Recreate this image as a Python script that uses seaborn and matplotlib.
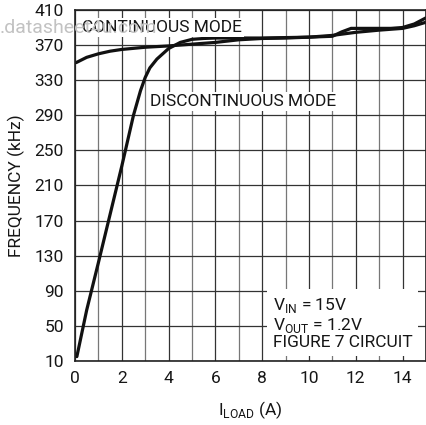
import numpy as np
import pandas as pd
import seaborn as sns
from matplotlib import pyplot as plt
from matplotlib.ticker import MultipleLocator

# load current (A) and switching frequency (kHz)
cont_load = [0.05, 0.5, 1.0, 1.5, 2.0, 3.0, 4.0, 5.0, 6.0, 7.0, 8.0, 9.0, 10.0, 11.0, 12.0, 13.0, 14.0, 14.5, 15.0]
cont_freq = [350, 356, 360, 363, 365, 367.5, 369, 371, 373, 376, 377.5, 378, 379, 381, 384.5, 387, 389, 392, 396]

disc_load = [0.08, 0.5, 1.0, 1.5, 2.0, 2.5, 2.8, 3.0, 3.2, 3.5, 4.0, 4.5, 5.0, 5.5, 6.0, 8.0, 10.0, 11.0, 11.4, 11.8, 12.5, 13.5, 14.0, 14.5, 15.0]
disc_freq = [15, 68, 122, 177, 232, 290, 318, 333, 344, 354, 366, 373, 376.5, 377.5, 378, 378, 379, 380, 385, 389, 389, 389, 390, 394, 401]

yticks = list(range(10, 411, 40))
xticks = list(range(0, 15, 2))

df = pd.concat([
    pd.DataFrame({"load": cont_load, "freq": cont_freq, "mode": "continuous"}),
    pd.DataFrame({"load": disc_load, "freq": disc_freq, "mode": "discontinuous"}),
])

sns.set_theme(style="white")
plt.rcParams['font.family'] = ['Roboto', 'DejaVu Sans']
plt.rcParams['mathtext.fontset'] = 'custom'
plt.rcParams['mathtext.rm'] = 'Roboto'

ink = "#161616"

fig = plt.figure(figsize=(4.27, 4.25), dpi=100)
ax = fig.add_axes([0.1756, 0.1506, 0.822, 0.826])

sns.lineplot(data=df, x="load", y="freq", units="mode", estimator=None,
             color="#111111", linewidth=2.3, sort=False, ax=ax)

ax.set_xlim(0, 15)
ax.set_ylim(10, 410)
ax.set_xticks(xticks)
ax.set_yticks(yticks)
ax.xaxis.set_minor_locator(MultipleLocator(1))
ax.grid(which="major", axis="both", color="#333333", linewidth=0.9)
ax.grid(which="minor", axis="x", color="#777777", linewidth=0.9)
ax.set_axisbelow(True)
ax.tick_params(which="both", length=0, labelsize=12.5, colors=ink)
ax.tick_params(axis="x", pad=7)
ax.tick_params(axis="y", pad=8)
for s in ax.spines.values():
    s.set_color("#222222")
    s.set_linewidth(1.2)

ax.set_xlabel("I$_{\\mathregular{LOAD}}$ (A)", fontsize=12.5, color=ink, labelpad=10)
ax.set_ylabel("FREQUENCY (kHz)", fontsize=12.5, color=ink, labelpad=7)

box = dict(facecolor="white", edgecolor="none", pad=1.5)
ax.text(0.3, 390, "CONTINUOUS MODE", fontsize=12.5, color=ink,
        va="center", ha="left", bbox=box, zorder=3)
ax.text(3.2, 306, "DISCONTINUOUS MODE", fontsize=12.5, color=ink,
        va="center", ha="left", bbox=box, zorder=3)
ax.text(8.45, 53, "V$_{\\mathregular{IN}}$ = 15V\nV$_{\\mathregular{OUT}}$ = 1.2V\nFIGURE 7 CIRCUIT",
        fontsize=12.5, color=ink, va="center", ha="left", linespacing=1.05,
        bbox=dict(facecolor="white", edgecolor="none", pad=4), zorder=3)

# watermark from the source scan
fig.text(0.0, 0.935, ".datasheet4u.com", fontsize=14, color="#c2c2c2",
         va="center", ha="left", zorder=10)

fig.savefig("out.png", dpi=100)
